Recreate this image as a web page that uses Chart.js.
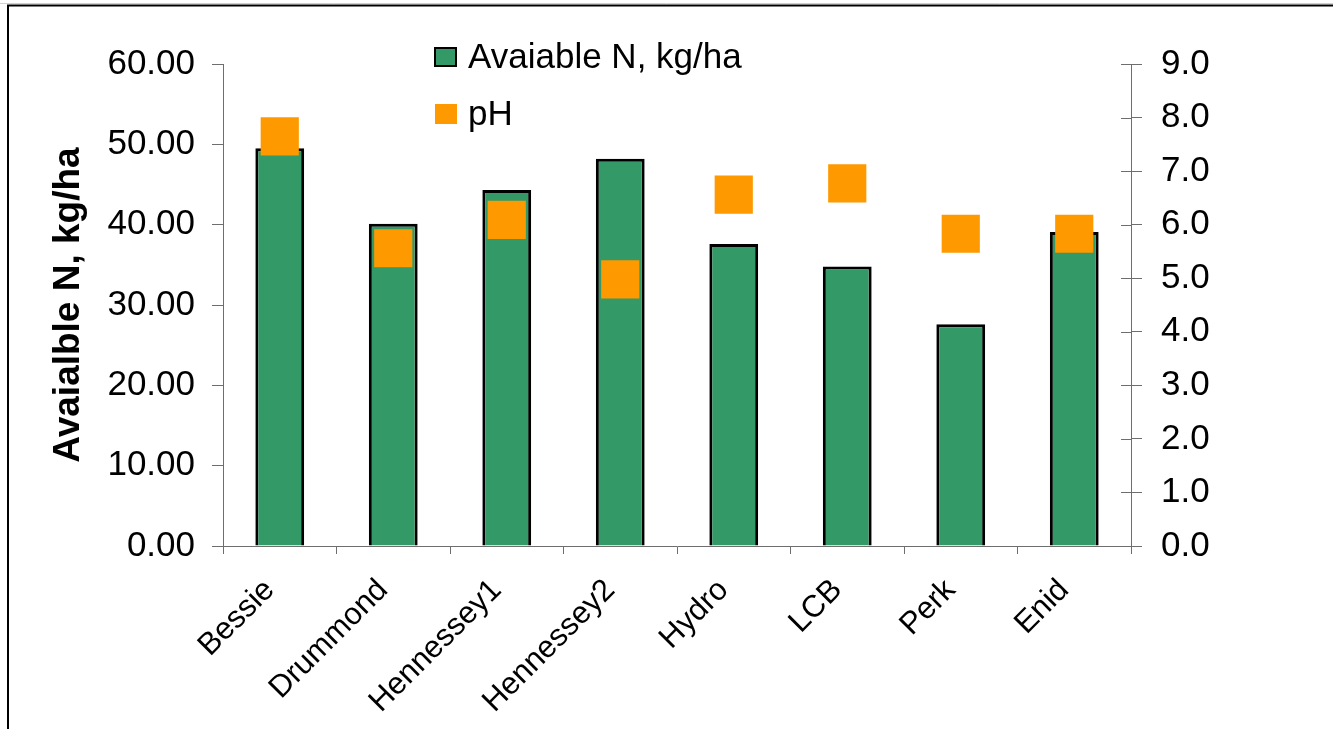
<!DOCTYPE html>
<html>
<head>
<meta charset="utf-8">
<script src="https://cdn.jsdelivr.net/npm/chart.js@4"></script>
<style>
  html, body { margin: 0; padding: 0; background: #ffffff; }
  #wrap { position: relative; width: 1333px; height: 729px; }
</style>
</head>
<body>
<div id="wrap"><canvas id="c" width="1333" height="729"></canvas></div>
<script>
// ---- data ----
const categories = ['Bessie', 'Drummond', 'Hennessey1', 'Hennessey2', 'Hydro', 'LCB', 'Perk', 'Enid'];
const availableN = [49.5, 40.1, 44.3, 48.2, 37.6, 34.8, 27.6, 39.1];
const pHValues = [7.65, 5.56, 6.09, 4.98, 6.56, 6.77, 5.83, 5.83];
const leftTicks = [0, 10, 20, 30, 40, 50, 60];
const rightTicks = [0, 1, 2, 3, 4, 5, 6, 7, 8, 9];
const seriesNames = ['Avaiable N, kg/ha', 'pH'];
const leftTitle = 'Avaialble N, kg/ha';

const FONT = "'Liberation Sans', Arial, sans-serif";
const AXIS = '#6e6e6e';
const GREEN = '#339966';
const ORANGE = '#ff9900';

const framePlugin = {
  id: 'frame',
  beforeDraw(chart) {
    const ctx = chart.ctx;
    ctx.save();
    ctx.fillStyle = '#ffffff';
    ctx.fillRect(0, 0, chart.width, chart.height);
    ctx.strokeStyle = '#d0d0d0';
    ctx.lineWidth = 1;
    ctx.beginPath();
    ctx.moveTo(0, 3.5); ctx.lineTo(chart.width, 3.5);
    ctx.stroke();
    ctx.strokeStyle = '#000000';
    ctx.lineWidth = 2;
    ctx.beginPath();
    ctx.moveTo(8, chart.height); ctx.lineTo(8, 5.5); ctx.lineTo(chart.width, 5.5);
    ctx.stroke();
    ctx.restore();
  },
  afterDraw(chart) {
    // inner half of the crossing ticks on the right axis
    const ctx = chart.ctx;
    const s = chart.scales.y1;
    ctx.save();
    ctx.strokeStyle = AXIS;
    ctx.lineWidth = 1;
    s.ticks.forEach(t => {
      const y = Math.round(s.getPixelForValue(t.value)) + 0.5;
      ctx.beginPath();
      ctx.moveTo(s.left - 10, y); ctx.lineTo(s.left, y);
      ctx.stroke();
    });
    // legend
    const items = chart.data.datasets;
    const pos = [{x: 435, y: 57}, {x: 435, y: 114}];
    ctx.font = '35px ' + FONT;
    ctx.textBaseline = 'middle';
    ctx.textAlign = 'left';
    items.forEach((ds, i) => {
      const p = pos[i];
      if (ds.type === 'bar') {
        ctx.fillStyle = ds.backgroundColor;
        ctx.fillRect(p.x, p.y - 9, 21, 18);
        ctx.strokeStyle = '#000';
        ctx.lineWidth = 2;
        ctx.strokeRect(p.x, p.y - 9, 21, 18);
      } else {
        ctx.fillStyle = ds.pointBackgroundColor;
        ctx.fillRect(p.x, p.y - 10, 22, 20);
      }
      ctx.fillStyle = '#000';
      ctx.fillText(ds.label, 468, p.y + 1);
    });
    ctx.restore();
  }
};

new Chart(document.getElementById('c'), {
  data: {
    labels: categories,
    datasets: [
      {
        type: 'bar',
        label: seriesNames[0],
        data: availableN,
        yAxisID: 'y',
        backgroundColor: GREEN,
        borderColor: '#000000',
        borderWidth: 3,
        categoryPercentage: 1,
        barPercentage: 0.43,
        order: 1
      },
      {
        type: 'line',
        label: seriesNames[1],
        data: pHValues,
        yAxisID: 'y1',
        showLine: false,
        pointStyle: 'rect',
        pointRadius: 27,
        pointHoverRadius: 27,
        pointBorderWidth: 0,
        pointBackgroundColor: ORANGE,
        backgroundColor: ORANGE,
        borderColor: ORANGE,
        order: 0
      }
    ]
  },
  options: {
    responsive: false,
    devicePixelRatio: 1,
    animation: false,
    layout: { padding: { top: 64, left: 0, right: 0, bottom: 0 } },
    plugins: { legend: { display: false }, tooltip: { enabled: false } },
    scales: {
      x: {
        type: 'category',
        offset: true,
        grid: { offset: true, drawOnChartArea: false, drawTicks: true, tickLength: 8, color: AXIS },
        border: { display: true, color: AXIS, width: 1 },
        ticks: {
          color: '#000', font: { family: FONT, size: 31 },
          minRotation: 45, maxRotation: 45, padding: 18, labelOffset: -10, autoSkip: false
        },
        afterFit(s) { s.height = 729 - 546; }
      },
      y: {
        position: 'left',
        min: 0, max: 60,
        afterBuildTicks(s) { s.ticks = leftTicks.map(v => ({ value: v })); },
        grid: { drawOnChartArea: false, drawTicks: true, tickLength: 11, color: AXIS },
        border: { display: true, color: AXIS, width: 1 },
        ticks: { color: '#000', font: { family: FONT, size: 35 }, padding: 17, callback: v => Number(v).toFixed(2) },
        title: { display: true, text: leftTitle, color: '#000', font: { family: FONT, size: 37, weight: 'bold' }, padding: { top: 47, bottom: 0 } },
        afterFit(s) { s.width = 223; }
      },
      y1: {
        position: 'right',
        min: 0, max: 9,
        afterBuildTicks(s) { s.ticks = rightTicks.map(v => ({ value: v })); },
        grid: { drawOnChartArea: false, drawTicks: true, tickLength: 11, color: AXIS },
        border: { display: true, color: AXIS, width: 1 },
        ticks: { color: '#000', font: { family: FONT, size: 35 }, padding: 19, callback: v => Number(v).toFixed(1) },
        afterFit(s) { s.width = 1333 - 1131; }
      }
    }
  },
  plugins: [framePlugin]
});
</script>
</body>
</html>
